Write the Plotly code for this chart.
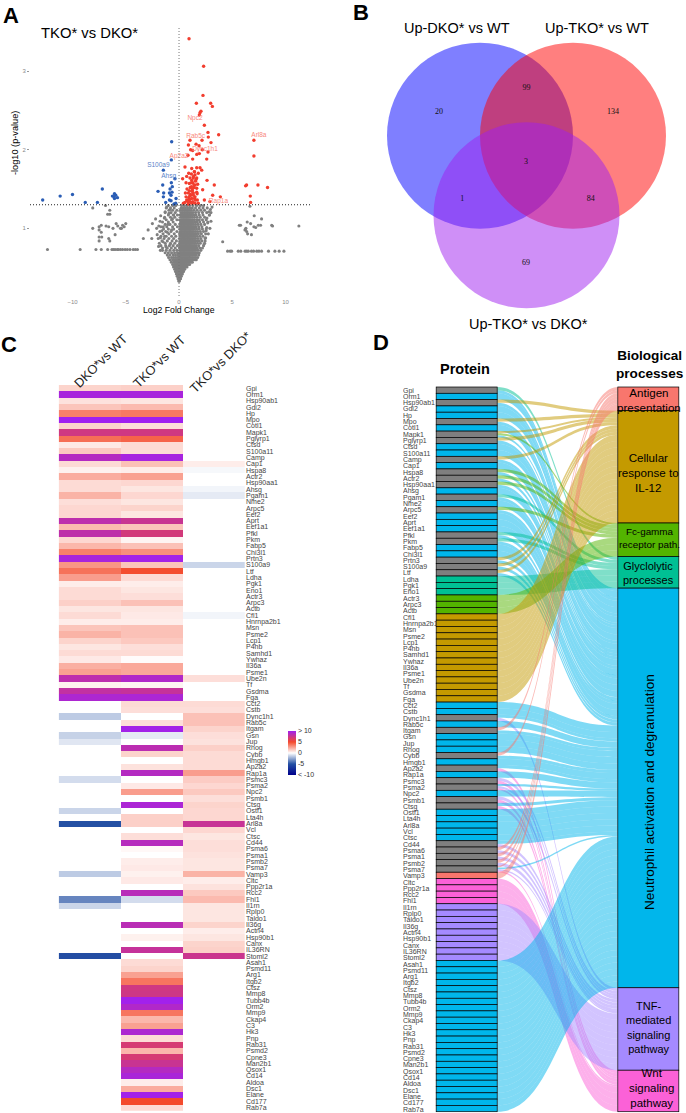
import plotly.graph_objects as go

W, H = 686, 1113
def dx(a, b): return [a / W, b / W]
def dy(a, b): return [1 - b / H, 1 - a / H]
def px(a): return a / W
def py(a): return 1 - a / H

SANS = "Liberation Sans, Arial, sans-serif"
SERIF = "Liberation Serif, Times New Roman, serif"

# ---------- Panel A data ----------
red_x = [.94,2.31,2.25,1.63,2.97,3.13,2.06,1.97,1.91,2.38,2.72,3.72,2.75,2.16,1.03,3.0,.88,1.6,1.88,1.09,1.28,2.19,1.91,1.66,2.72,.84,2.6,1.28,
 .56,1.19,1.66,1.97,2.13,1.44,.91,1.16,1.5,1.81,.72,1.03,1.34,1.66,1.19,.34,2.63,.66,.97,1.28,1.5,3.31,1.16,1.41,1.66,1.25,.88,1.09,1.34,1.66,2.22,
 .66,.91,1.19,1.5,1.72,.72,1.03,1.28,.56,.41,.88,1.19,1.81,3.16,3.88,2.38,2.9,7.03,7.03,7.41,8.31,6.34,6.25,6.69,6.72,
 .8,1.0,1.1,1.25,1.4,1.55,1.35,1.45,1.6,1.75,1.2,1.3,1.5,.95,1.05,1.15,1.35,1.45,1.7,.75,.85,1.0,1.55,.6]
red_y = [3.41,3.06,2.69,2.59,2.59,2.55,2.49,2.47,2.44,2.31,2.22,2.19,2.16,2.12,2.12,2.09,2.06,2.07,2.05,2.0,1.99,2.0,1.95,1.94,1.97,1.93,1.88,1.88,
 1.78,1.76,1.77,1.77,1.74,1.72,1.7,1.69,1.68,1.7,1.66,1.64,1.64,1.64,1.61,1.63,1.61,1.58,1.57,1.58,1.55,1.55,1.53,1.52,1.51,1.48,1.45,1.43,1.45,1.46,1.49,
 1.4,1.39,1.38,1.4,1.36,1.36,1.34,1.33,1.33,1.32,1.31,1.32,1.32,1.42,1.4,1.36,1.34,2.12,1.92,1.55,1.52,1.55,1.54,1.41,1.33,
 1.35,1.37,1.42,1.5,1.55,1.6,1.66,1.72,1.62,1.56,1.47,1.34,1.32,1.48,1.52,1.58,1.42,1.38,1.44,1.5,1.34,1.41,1.36,1.45]
blue_x = [-12.8,-11.16,-10,-8.8,-7.66,-7.2,-6.06,-6.25,-6.06,-5.78,-6.1,-5.94,-.69,-.72,-1.47,-.38,-.72,-1.53,-.63,-1.97,-1.44,-.84,-.66,-.9,-.75,-1.47,-.28,-.9,-.75,-1.25,-.31,-.47]
blue_y = [1.36,1.41,1.43,1.33,1.33,1.5,1.44,1.41,1.38,1.39,1.4,1.42,2.1,1.87,1.74,1.63,1.58,1.55,1.53,1.47,1.45,1.5,1.46,1.45,1.42,1.4,1.38,1.36,1.35,1.33,1.32,1.31]
# gray: tail rows with the same p-value and the two outer clusters
gray_tail_left_x = [-12.35,-9.28,-7.8,-7.3,-6.7,-6.3,-6.15,-6,-5.8,-5.7,-5.5,-5.3,-5.06,-4.85,-4.6,-4.3,-4.1,-3.9]
gray_tail_right_x = [4.56,4.8,4.94,5.56,5.8,6.2,6.35,6.5,6.8,7.0,7.3,7.5,7.75,8.4,9.0,9.4,9.85]
gray_cluster_x = [-8.1,-6.9,-6.5,-6.7,-6.5,-8.1,-7.5,-7.3,-6.85,-6.6,-7.5,-7.3,-7.5,-7.25,-7.5,-6.6,-6,-6.5,-5.9,-5.75,-5.3,-5.15,-5,-5.4,-5.5,-6.2,
 5.66,5.78,6.4,6.28,6.19,6.35,6.44,6.25,6.8,6.72,7.03,7.2,7.06,7.44,7.66,7.75,8.7,8.78,11.25,6.66,4.1,-3.35,-2.56,-2.9,-2.5,-2.1,
 -2.05,-1.75,-1.5,-1.9,-1.62,-1.35,-2.2,-1.78,-1.48,-1.1,-1.92,-1.55,-1.2,-.82,-1.72,-1.38,-1.05,-.7,-1.3,-.95,-.62,-1.15,-.85,-.5,
 2.62,2.8,2.55,2.95,2.7,2.5,3.1,2.85,2.6,3.0,2.75,2.45,2.9,2.35]
gray_cluster_y = [1.26,1.29,1.23,1.18,1.18,1.0,1.02,1.04,1.03,1.02,.98,.95,.89,.89,.84,.87,.92,.84,1.06,1.03,1.04,1.02,1.06,1.0,1.0,1.0,
 1.04,1.04,1.08,1.0,.98,.96,.93,.99,.92,1.06,1.02,1.01,1.16,1.04,1.04,1.12,1.04,1.03,1.03,1.28,.83,.87,.87,.98,1.06,1.0,
 .92,.88,.83,1.03,.97,.9,1.12,1.09,1.02,.95,.77,.72,.76,.8,1.16,1.13,1.05,.98,1.21,1.19,1.12,1.27,1.24,1.17,
 1.13,1.21,.97,1.24,1.07,.88,1.27,1.17,1.01,1.09,.93,.84,1.0,.8]
# gray: central volcano cloud, row by row of -log10(p)
cloud_y = [.33,.36,.39,.42,.45,.48,.51,.54,.57,.60,.63,.66,.69,.72,.75,.78,.81,.84,.87,.90,.93,.96,.99,1.02,1.05,1.08,1.11,1.14,1.17,1.20,1.23,1.26,1.29]
cloud_x = [
 [0,.03,-.02],
 [-.09,-.03,.04,.1,.14],
 [-.17,-.1,-.04,.03,.09,.16,.21],
 [-.25,-.17,-.09,-.02,.05,.12,.2,.27,.31],
 [-.33,-.24,-.15,-.06,.03,.11,.19,.28,.36,.42],
 [-.41,-.3,-.2,-.1,0,.09,.18,.27,.36,.46,.53],
 [-.52,-.38,-.26,-.15,-.05,.05,.14,.24,.33,.43,.53,.63,.75],
 [-.6,-.44,-.31,-.18,-.07,.03,.12,.22,.32,.42,.52,.62,.72,.85,1.0],
 [-.72,-.5,-.34,-.2,-.08,.04,.14,.25,.36,.47,.58,.69,.81,.93,1.1,1.25],
 [-.85,-.6,-.4,-.24,-.1,.03,.15,.27,.39,.51,.63,.75,.87,1.0,1.15,1.3,1.5,1.62],
 [-.98,-.7,-.5,-.3,-.12,.02,.13,.25,.37,.49,.61,.73,.85,.97,1.1,1.24,1.4,1.56,1.75],
 [-1.1,-.85,-.55,-.33,-.1,.05,.17,.29,.41,.53,.65,.77,.89,1.01,1.14,1.28,1.44,1.62,1.85],
 [-1.3,-1.0,-.7,-.42,-.15,.03,.14,.26,.38,.5,.62,.74,.86,.98,1.1,1.22,1.36,1.5,1.68,1.9],
 [-1.75,-1.2,-.85,-.5,-.2,.06,.18,.3,.42,.54,.66,.78,.9,1.02,1.15,1.28,1.42,1.58,1.78,2.05],
 [-1.55,-1.1,-.72,-.35,.04,.15,.27,.39,.51,.63,.75,.87,.99,1.11,1.24,1.38,1.52,1.7,1.95,2.2],
 [-1.7,-1.25,-.9,-.55,-.15,.07,.2,.32,.44,.56,.68,.8,.92,1.04,1.16,1.3,1.45,1.62,1.85,2.3],
 [-1.85,-1.3,-.8,-.4,.05,.17,.29,.41,.53,.65,.77,.89,1.01,1.13,1.26,1.4,1.55,1.75,2.0,2.4],
 [-1.6,-1.1,-.65,-.25,.08,.2,.33,.45,.57,.69,.81,.93,1.05,1.18,1.32,1.48,1.68,1.9,2.15],
 [-1.95,-1.4,-.95,-.5,.03,.16,.28,.4,.52,.64,.76,.88,1.0,1.12,1.25,1.4,1.55,1.78,2.05,2.45],
 [-1.7,-1.2,-.7,-.3,.1,.22,.35,.47,.59,.71,.83,.95,1.07,1.2,1.35,1.5,1.7,1.95,2.25],
 [-1.5,-.95,-.45,.05,.18,.3,.42,.54,.66,.78,.9,1.02,1.15,1.28,1.43,1.6,1.82,2.1,2.5],
 [-1.8,-1.25,-.75,-.2,.12,.24,.36,.48,.6,.72,.84,.96,1.08,1.22,1.37,1.55,1.75,2.0,2.3],
 [-1.45,-1.0,-.5,.06,.19,.31,.43,.55,.67,.79,.91,1.03,1.16,1.3,1.45,1.65,1.9,2.2,2.55],
 [-1.7,-1.15,-.6,-.15,.13,.25,.37,.49,.61,.73,.85,.97,1.1,1.25,1.42,1.6,1.85,2.15],
 [-1.3,-.85,-.35,.08,.2,.33,.45,.57,.69,.81,.93,1.06,1.2,1.36,1.55,1.78,2.05,2.4],
 [-1.55,-1.0,-.55,.14,.26,.38,.5,.62,.74,.86,.98,1.12,1.28,1.48,1.7,1.95,2.3,2.7],
 [-1.2,-.7,-.2,.06,.2,.34,.46,.58,.7,.82,.95,1.1,1.27,1.45,1.68,1.9,2.2,2.55],
 [-1.35,-.8,-.4,.16,.3,.42,.55,.68,.8,.93,1.08,1.25,1.45,1.7,2.0,2.4],
 [-1.0,-.55,-.15,.1,.25,.4,.55,.7,.85,1.0,1.18,1.38,1.6,1.9,2.25,2.85],
 [-1.3,-.75,-.35,.18,.34,.5,.66,.8,.95,1.12,1.3,1.55,1.85,2.2,2.6,3.0],
 [-.95,-.6,-.2,.12,.3,.48,.62,.78,.95,1.15,1.4,1.7,2.05,2.4],
 [-1.2,-.8,-.45,.2,.4,.6,.8,1.0,1.25,1.55,1.9,2.25,2.65],
 [-1.0,-.6,-.3,.25,.5,.75,1.0,1.3,1.65,2.0,2.3],
]
gray_x = gray_tail_left_x + gray_tail_right_x + gray_cluster_x + [v for row in cloud_x for v in row]
gray_y = [.73] * len(gray_tail_left_x) + [.71] * len(gray_tail_right_x) + gray_cluster_y + [y for y, row in zip(cloud_y, cloud_x) for _ in row]
up_labels = ["Npc2", "Rab5c", "Arl8a", "Dync1h1", "Ap2a2", "Rap1a"]
up_label_x = [1.5, 1.56, 7.5, 2.44, 0.0, 3.7]
up_label_y = [2.4, 2.17, 2.18, 2.0, 1.92, 1.34]
down_labels = ["S100a9", "Ahsg"]
down_label_x = [-1.94, -.97]
down_label_y = [1.8, 1.66]

# ---------- Panel B data ----------
venn_names = ["Up-DKO* vs WT", "Up-TKO* vs WT", "Up-TKO* vs DKO*"]
venn_counts = ["20", "99", "134", "3", "1", "84", "69"]
venn_count_x = [-.44, .5, 1.43, .495, -.19, 1.19, .495]
venn_count_y = [.255, .51, .255, -.286, -.68, -.68, -1.37]
venn_centres_x = [0, 1, .5]
venn_centres_y = [0, 0, -.856]
venn_colors = ["#0000ff", "#ff0000", "#a020f0"]

# ---------- Panels C, D data ----------
proteins = ["Gpi","Orm1","Hsp90ab1","Gdi2","Hp","Mpo","Cotl1","Mapk1","Pglyrp1","Ctsd","S100a11","Camp","Cap1","Hspa8","Actr2","Hsp90aa1","Ahsg","Pgam1","Nme2","Arpc5","Eef2","Aprt","Eef1a1","Pfkl","Pkm","Fabp5","Chi3l1","Prtn3","S100a9","Ltf","Ldha","Pgk1","Eno1","Actr3","Arpc3","Actb","Cfl1","Hnrnpa2b1","Msn","Psme2","Lcp1","P4hb","Samhd1","Ywhaz","Il36a","Psme1","Ube2n","Tf","Gsdma","Fga","Cct2","Cstb","Dync1h1","Rab5c","Itgam","Gsn","Jup","Rhog","Cybb","Hmgb1","Ap2a2","Rap1a","Psmc3","Psma2","Npc2","Psmb1","Ctsg","Ostf1","Lta4h","Arl8a","Vcl","Ctsc","Cd44","Psma6","Psma1","Psmb2","Psma7","Vamp3","Cltc","Ppp2r1a","Rcc2","Fhl1","Il1rn","Rplp0","Taldo1","Il36g","Actn4","Hsp90b1","Canx","IL36RN","Stoml2","Asah1","Psmd11","Arg1","Itgb2","Ctsz","Mmp8","Tubb4b","Orm2","Mmp9","Ckap4","C3","Hk3","Pnp","Rab31","Psmd2","Cpne3","Man2b1","Qsox1","Cd14","Aldoa","Dsc1","Elane","Cd177","Rab7a"]
n = None
dko_wt = [1.2,9.5,.8,1.6,3.5,10,1.2,7.2,4,.6,1.5,8.8,1,.4,2.3,1,1,2.1,.9,1.1,1.1,8.3,1.9,8.2,1.1,2,3.5,9.5,2.9,3.9,2.7,.5,1,1,1.3,.7,1,.5,1.6,2.1,1.2,.7,1,.6,2.2,2.6,8.3,.4,8,9.2,
 n,n,-1.5,n,n,-1.3,-.7,n,n,n,n,n,-1,n,n,n,n,-1.2,n,-5,n,n,n,n,n,n,n,-1.5,n,n,n,-3.5,-1.2,n,n,n,n,n,n,n,-5.2] + [n] * 24
tko_wt = [1.3,9.5,.7,1.9,3.7,10,.9,7.2,4.3,1,1,9.6,1.7,.5,2.6,1.1,.7,1.1,.7,1.2,.7,7.6,1.6,7,.3,1.7,3.1,9.8,1.6,4.9,1,.5,.7,.9,1.7,.7,.6,.5,1.7,1.7,1.5,.9,1,.1,2.4,2.4,9,.3,7.8,9.3,
 1,.9,n,.9,9.8,-.6,n,8.4,1.2,n,.8,8.8,n,.6,2.7,n,9.3,n,1.3,1.3,n,.9,8.7,.2,n,.5,.6,.4,.6,n,8.6,-1,n,n,n,8.5,n,.4,n,7.8,n,
 1,1.2,2.6,3.8,7.2,7.3,9.9,9,3.8,2,2.6,9.2,1,6.8,2,6.8,7.6,8.8,9.4,.5,2.3,9.8,5,1]
tko_dko = [n] * 12 + [.5,-.2,n,n,-.3,-.6] + [n] * 10 + [-1.2] + [n] * 7 + [-.3] + [n] * 9 + [.9] + [n] * 3 + \
 [1,.9,1.7,1.7,1.2,.9,.8,1.3,1,1,1,2.7,1.4,1.1,1.5,.9,1.2,1.1,1.1,7.7,1.1,.7,.9,.9,.8,.7,.7,2.1,.5,.8,1.5,1.9,.7,.7,.7,1.2,.5,.7,1.2,1.3,7.5] + [n] * 24
heat_columns = ["DKO*vs WT", "TKO*vs WT", "TKO*vs DKO*"]
legend_vals = [10, 5, 0, -5, -10]
legend_text = ["> 10", "5", "0", "-5", "< -10"]

processes = ["Antigen presentation", "Cellular response to IL-12", "Fc-gamma receptor path.", "Glyclolytic processes", "Neutrophil activation and degranulation", "TNF-mediated signaling pathway", "Wnt signaling pathway"]
process_codes = ["A", "I", "F", "G", "N", "T", "W"]
process_colors = ["#F8766D", "#C49A00", "#53B400", "#00C094", "#00B6EB", "#A58AFF", "#FB61D7"]
process_fill = ["rgba(248,118,109,.5)", "rgba(196,154,0,.5)", "rgba(83,180,0,.5)", "rgba(0,192,148,.5)", "rgba(0,182,235,.5)", "rgba(165,138,255,.5)", "rgba(251,97,215,.5)"]
memberships = ["NG","N","NI","N","N","NI","N","NIF","NI","N","N","NI","N","NF","NF","NF","N","NG","N","NF","N","N","N","NG","NG","N","N","NI","NI","NI",
 "G","G","G","F","F","F"] + ["I"] * 14 + ["N","N","NT","N","NA","N","N","N","NA","N","NW","N","TW","NTW","N","TW","NW","N","N","N","N","N","NT","AT","AT","AT","NATW",
 "A","W","W","W","W"] + ["T"] * 9 + ["N"] * 24
GRAY = "#7f7f7f"

# ---------- Build ----------
fig = go.Figure()

# A
fig.add_trace(go.Scatter(x=gray_x, y=gray_y, mode="markers", marker=dict(size=3.1, color="#808080"), xaxis="x", yaxis="y"))
fig.add_trace(go.Scatter(x=blue_x, y=blue_y, mode="markers", marker=dict(size=3.4, color="#2a5db5"), xaxis="x", yaxis="y"))
fig.add_trace(go.Scatter(x=red_x, y=red_y, mode="markers", marker=dict(size=3.4, color="#f23d2e"), xaxis="x", yaxis="y"))
fig.add_trace(go.Scatter(x=up_label_x, y=up_label_y, text=up_labels, mode="text", textfont=dict(family=SANS, size=6.5, color="#f8887c"), xaxis="x", yaxis="y"))
fig.add_trace(go.Scatter(x=down_label_x, y=down_label_y, text=down_labels, mode="text", textfont=dict(family=SANS, size=6.5, color="#5b82c8"), xaxis="x", yaxis="y"))

# B
fig.add_trace(go.Scatter(x=venn_count_x, y=venn_count_y, text=venn_counts, mode="text", textfont=dict(family=SERIF, size=8, color="#111"), xaxis="x2", yaxis="y2"))
for cx, cy, col in zip(venn_centres_x, venn_centres_y, venn_colors):
    fig.add_shape(type="circle", xref="x2", yref="y2", x0=cx - 1, x1=cx + 1, y0=cy - 1, y1=cy + 1,
                  fillcolor=col, opacity=.5, line_width=0, layer="below")

# C
fig.add_trace(go.Heatmap(z=[[a, b, c] for a, b, c in zip(dko_wt, tko_wt, tko_dko)], x=heat_columns, y=proteins,
    xaxis="x3", yaxis="y3", zmin=-10, zmax=10, hoverongaps=False,
    colorscale=[[0, "#00008b"], [.25, "#2450a4"], [.5, "#ffffff"], [.75, "#f44a2c"], [1, "#a020f0"]],
    colorbar=dict(x=px(288), xanchor="left", y=py(752.5), yanchor="middle", len=44, lenmode="pixels", thickness=8,
                  thicknessmode="pixels", outlinewidth=0, tickmode="array", tickvals=legend_vals, ticktext=legend_text,
                  ticks="", ticklabelposition="outside", xpad=0, ypad=0, tickfont=dict(family=SANS, size=7, color="#333"))))

# D labels
fig.add_trace(go.Scatter(x=[0] * len(proteins), y=proteins, text=proteins, mode="text", textposition="middle right",
    textfont=dict(family=SANS, size=7, color="#444"), xaxis="x4", yaxis="y4"))

# D alluvial
node_colors, link_s, link_t, link_v, link_c = [], [], [], [], []
for i, m in enumerate(memberships):
    node_colors.append(process_colors[process_codes.index(m)] if len(m) == 1 else GRAY)
    for code in m:
        j = process_codes.index(code)
        link_s.append(i); link_t.append(len(proteins) + j); link_v.append(1 / len(m)); link_c.append(process_fill[j])
totals = [sum(v for v, t in zip(link_v, link_t) if t == len(proteins) + j) for j in range(7)]
nodes_y = [(i + .5) / len(proteins) for i in range(len(proteins))]
acc = 0
for t in totals:
    nodes_y.append((acc + t / 2) / len(proteins)); acc += t
fig.add_trace(go.Sankey(
    domain=dict(x=dx(466.5, 648.5), y=dy(387, 1111.7)), arrangement="fixed", hoverinfo="skip",
    node=dict(pad=0, thickness=61, label=[""] * (len(proteins) + 7), color=node_colors + process_colors,
              x=[.001] * len(proteins) + [.999] * 7, y=nodes_y,
              line=dict(color=["rgba(30,30,30,.75)"] * len(proteins) + ["#777"] * 7, width=.7)),
    link=dict(source=link_s, target=link_t, value=link_v, color=link_c)))

def note(text, x, y, size, color="black", bold=False, angle=0, align="center", family=SANS, anchor="center"):
    fig.add_annotation(text=f"<b>{text}</b>" if bold else text, x=px(x), y=py(y), xref="paper", yref="paper", showarrow=False,
                       font=dict(family=family, size=size, color=color), textangle=angle, align=align, xanchor=anchor, yanchor="middle")

for t, x, y in [("A", 11, 15), ("B", 361, 13), ("C", 9, 345), ("D", 381, 342)]:
    note(t, x, y, 22, bold=True)
note("TKO* vs DKO*", 89, 33, 14.8)
note("Log2 Fold Change", 179, 310, 8.7)
note("-log10 (p-value)", 15, 143, 9.2, angle=-90)
note(venn_names[0], 457, 28, 14.5)
note(venn_names[1], 597, 28, 14.5)
note(venn_names[2], 528, 324, 14.5)
for name, x, y in zip(heat_columns, [100, 159, 220], [361, 361, 362]):
    note(name, x, y, 12.8, color="#222", angle=-45)
note("Protein", 465, 369, 14.5, bold=True)
note("Biological<br>processes", 649.5, 364.5, 13.6, bold=True)
note("Antigen<br>presentation", 648.5, 400, 11.6)
note("Cellular<br>response to<br>IL-12", 648.5, 473, 11.6)
note("Fc-gamma<br>receptor path.", 649, 538.5, 9.9)
note("Glyclolytic<br>processes", 648.5, 573, 11)
note(processes[4], 649, 792, 13.6, angle=-90)
note("TNF-<br>mediated<br>signaling<br>pathway", 648.5, 1027.5, 11)
note("Wnt<br>signaling<br>pathway", 651, 1088, 11.5)

hidden = dict(visible=False, fixedrange=True)
fig.update_layout(
    width=W, height=H, margin=dict(l=0, r=0, t=0, b=0), paper_bgcolor="white", plot_bgcolor="white", showlegend=False,
    font=dict(family=SANS),
    xaxis=dict(domain=dx(30, 311), range=[-13.99, 12.39], tickvals=[-10, -5, 0, 5, 10], showgrid=False, zeroline=False, showline=False,
               ticks="", tickfont=dict(size=6, color="#8a8a8a"), ticklen=0, anchor="y"),
    yaxis=dict(domain=dy(28, 297), range=[.127, 3.547], tickvals=[1, 2, 3], showgrid=False, zeroline=False, showline=False,
               ticks="outside", ticklen=2, tickwidth=.5, tickcolor="#999", tickfont=dict(size=6, color="#8a8a8a"), anchor="x"),
    xaxis2=dict(domain=dx(380, 680), range=[(380 - 480) / 93, (680 - 480) / 93], anchor="y2", **hidden),
    yaxis2=dict(domain=dy(30, 320), range=[(135.7 - 320) / 93, (135.7 - 30) / 93], anchor="x2", **hidden),
    xaxis3=dict(domain=dx(58.7, 245), anchor="y3", categoryorder="array", categoryarray=heat_columns, showticklabels=False, ticks="", showgrid=False, zeroline=False),
    yaxis3=dict(domain=dy(385, 1110.7), anchor="x3", side="right", autorange="reversed", tickmode="array", tickvals=proteins, ticktext=proteins,
                tickfont=dict(family=SANS, size=7, color="#444"), ticks="", showgrid=False, zeroline=False),
    xaxis4=dict(domain=dx(403, 436), range=[0, 1], anchor="y4", **hidden),
    yaxis4=dict(domain=dy(387.6, 1113), anchor="x4", range=[len(proteins) - .5, -.5], type="category", categoryorder="array", categoryarray=proteins, visible=False),
    shapes=list(fig.layout.shapes) + [
        dict(type="line", xref="paper", yref="y", x0=px(30), x1=px(311), y0=1.30, y1=1.30, line=dict(color="#222", width=1, dash="1px,2px")),
        dict(type="line", xref="x", yref="paper", x0=0, x1=0, y0=py(28), y1=py(297), line=dict(color="#777", width=1, dash="1px,2px")),
    ],
)
fig.write_html("out.html", config=dict(displayModeBar=False), post_script="document.body.style.margin='0';")
